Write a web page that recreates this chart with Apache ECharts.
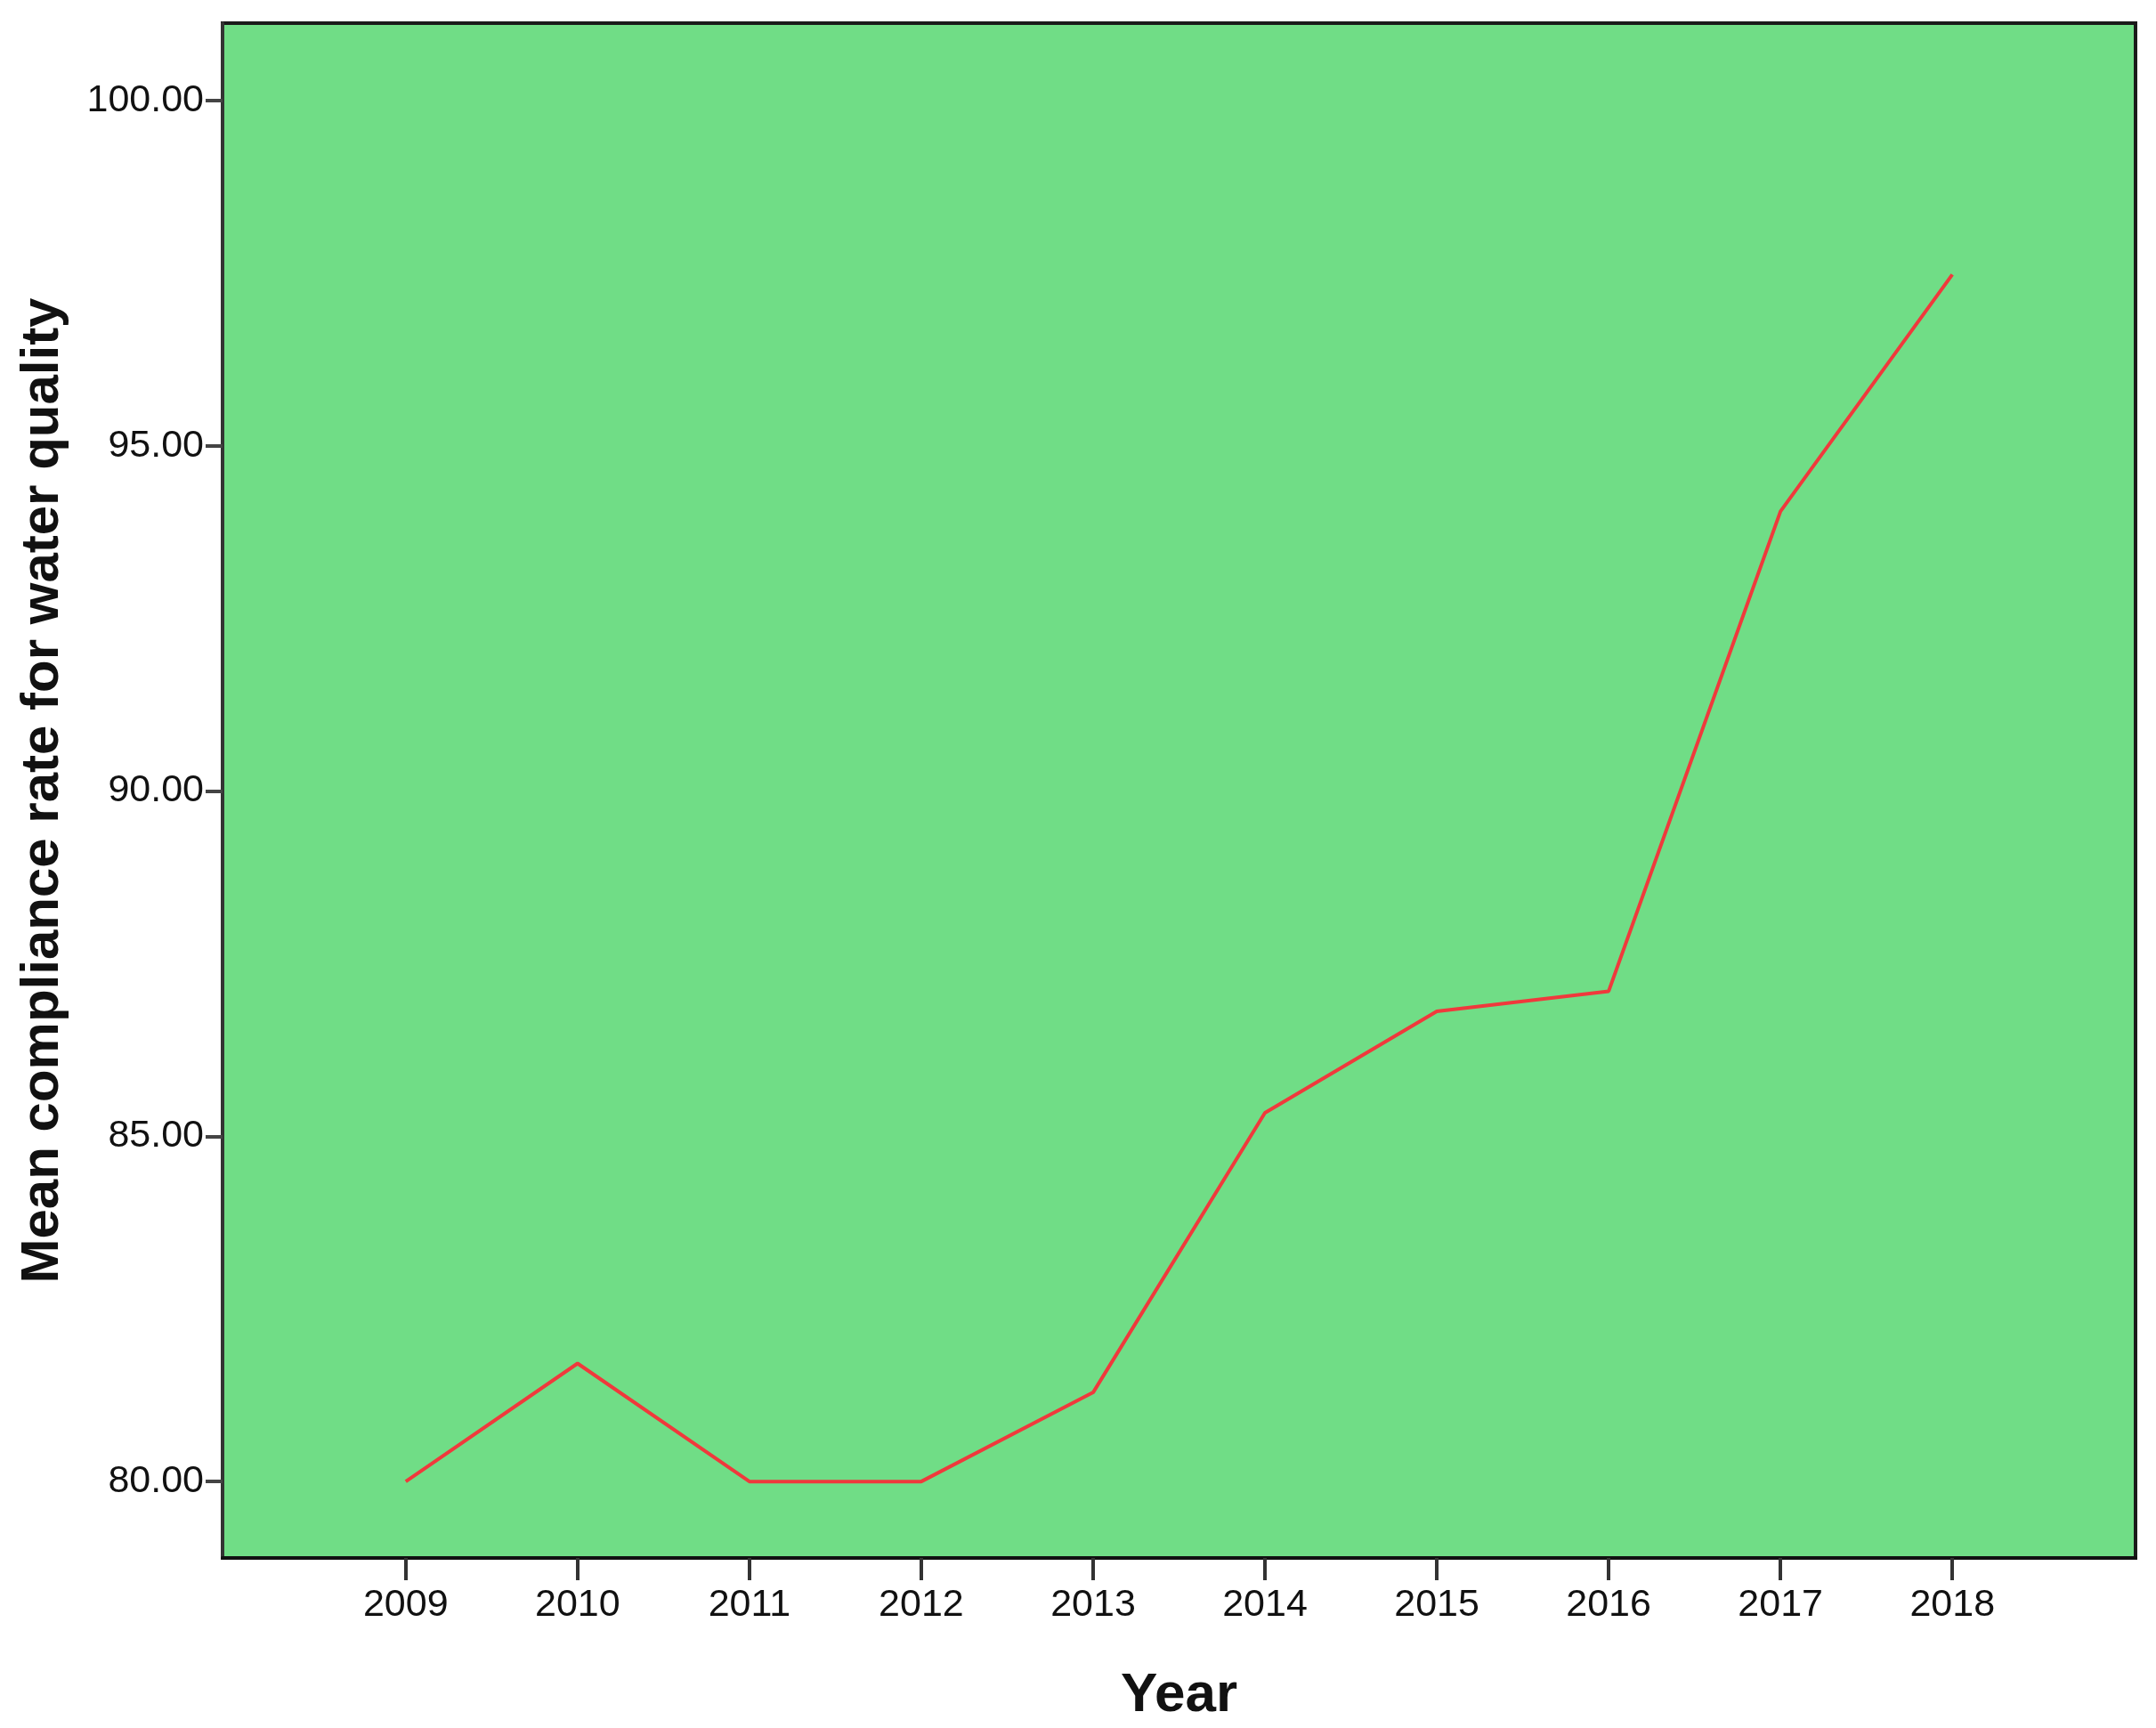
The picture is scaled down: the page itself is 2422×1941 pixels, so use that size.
<!DOCTYPE html>
<html>
<head>
<meta charset="utf-8">
<script src="https://cdn.jsdelivr.net/npm/echarts@6/dist/echarts.min.js"></script>
<style>
  html, body { margin: 0; padding: 0; background: #fff; }
  #chart { width: 2422px; height: 1941px; }
</style>
</head>
<body>
<div id="chart"></div>
<script>
// Mean compliance rate for water quality by year
const years = [2009, 2010, 2011, 2012, 2013, 2014, 2015, 2016, 2017, 2018];
const rates = [80.00, 81.71, 80.00, 80.00, 81.29, 85.34, 86.81, 87.10, 94.05, 97.48];
const yTicks = [80, 85, 90, 95, 100];

const chart = echarts.init(document.getElementById('chart'));
const labelFont = 'Liberation Sans, Arial, sans-serif';

chart.setOption({
  animation: false,
  grid: {
    left: 250, right: 23, top: 26, bottom: 188,
    show: true, backgroundColor: '#70dd86',
    borderColor: '#1a1a1a', borderWidth: 4
  },
  xAxis: {
    type: 'value',
    min: 2007.934, max: 2019.066,
    name: 'Year', nameLocation: 'middle', nameGap: 124,
    nameTextStyle: { fontFamily: labelFont, fontWeight: 'bold', fontSize: 62, color: '#111' },
    axisLine: { show: true, lineStyle: { color: '#111', width: 4 } },
    axisTick: { show: true, length: 25, customValues: years, lineStyle: { color: '#333', width: 4 } },
    axisLabel: { customValues: years, margin: 32, fontFamily: labelFont, fontSize: 43, color: '#111', formatter: v => String(v) },
    splitLine: { show: false }
  },
  yAxis: {
    type: 'value',
    min: 78.893, max: 101.12,
    name: 'Mean compliance rate for water quality', nameLocation: 'middle', nameGap: 172,
    nameTextStyle: { fontFamily: labelFont, fontWeight: 'bold', fontSize: 60, color: '#111' },
    axisLine: { show: true, lineStyle: { color: '#333', width: 4 } },
    axisTick: { show: true, length: 19, customValues: yTicks, lineStyle: { color: '#444', width: 4 } },
    axisLabel: { customValues: yTicks, margin: 21, fontFamily: labelFont, fontSize: 43, color: '#111', formatter: v => v.toFixed(2) },
    splitLine: { show: false }
  },
  series: [{
    type: 'line',
    data: years.map((y, i) => [y, rates[i]]),
    symbol: 'none',
    lineStyle: { color: '#f0393c', width: 4 },
    z: 3
  }]
});
</script>
</body>
</html>
